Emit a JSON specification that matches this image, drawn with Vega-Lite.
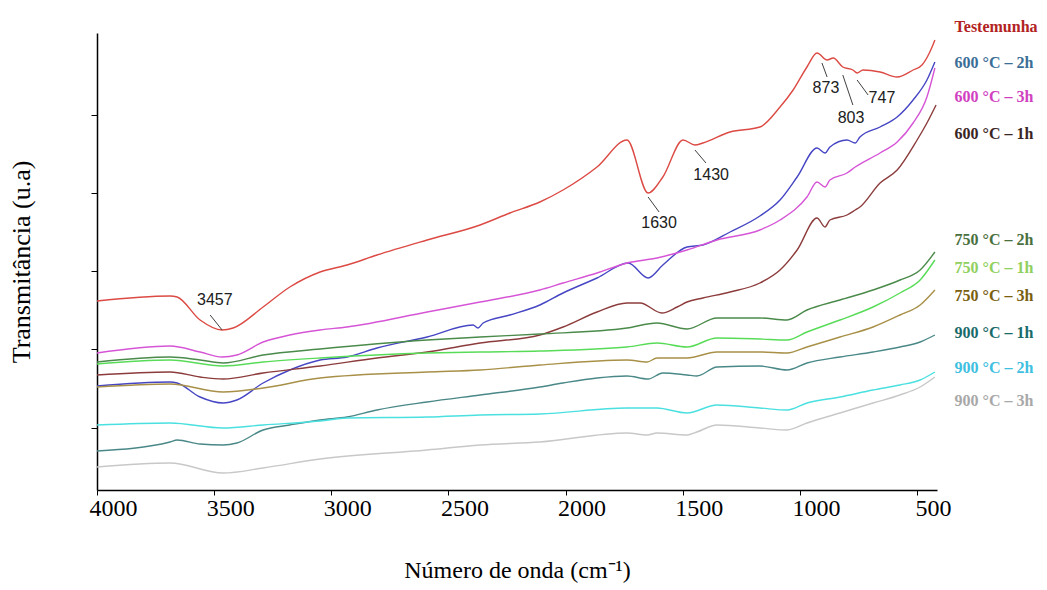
{
  "$schema": "https://vega.github.io/schema/vega-lite/v6.json",
  "width": 840,
  "height": 457,
  "autosize": {"type": "none"},
  "padding": {"left": 97, "top": 33, "right": 110, "bottom": 100},
  "background": "white",
  "config": {"view": {"stroke": null}, "font": "Liberation Serif", "axis": {"labelFont": "Liberation Serif", "titleFont": "Liberation Serif"}},
  "datasets": {
    "spectra": [
      {"s": "Testemunha", "w": 4000, "t": 1.89}, {"s": "Testemunha", "w": 3688, "t": 1.94}, {"s": "Testemunha", "w": 3658, "t": 1.93}, {"s": "Testemunha", "w": 3560, "t": 1.70}, {"s": "Testemunha", "w": 3466, "t": 1.60}, {"s": "Testemunha", "w": 3419, "t": 1.62}, {"s": "Testemunha", "w": 3291, "t": 1.83}, {"s": "Testemunha", "w": 3177, "t": 2.03}, {"s": "Testemunha", "w": 3048, "t": 2.18}, {"s": "Testemunha", "w": 2933, "t": 2.25}, {"s": "Testemunha", "w": 2805, "t": 2.35}, {"s": "Testemunha", "w": 2591, "t": 2.50}, {"s": "Testemunha", "w": 2365, "t": 2.65}, {"s": "Testemunha", "w": 2238, "t": 2.77}, {"s": "Testemunha", "w": 2110, "t": 2.88}, {"s": "Testemunha", "w": 2011, "t": 3.00}, {"s": "Testemunha", "w": 1866, "t": 3.23}, {"s": "Testemunha", "w": 1738, "t": 3.50}, {"s": "Testemunha", "w": 1648, "t": 2.97}, {"s": "Testemunha", "w": 1585, "t": 3.13}, {"s": "Testemunha", "w": 1499, "t": 3.50}, {"s": "Testemunha", "w": 1448, "t": 3.45}, {"s": "Testemunha", "w": 1414, "t": 3.47}, {"s": "Testemunha", "w": 1298, "t": 3.58}, {"s": "Testemunha", "w": 1171, "t": 3.63}, {"s": "Testemunha", "w": 1085, "t": 3.83}, {"s": "Testemunha", "w": 1029, "t": 4.00}, {"s": "Testemunha", "w": 970, "t": 4.23}, {"s": "Testemunha", "w": 927, "t": 4.37}, {"s": "Testemunha", "w": 884, "t": 4.30}, {"s": "Testemunha", "w": 858, "t": 4.32}, {"s": "Testemunha", "w": 817, "t": 4.23}, {"s": "Testemunha", "w": 774, "t": 4.20}, {"s": "Testemunha", "w": 756, "t": 4.17}, {"s": "Testemunha", "w": 731, "t": 4.20}, {"s": "Testemunha", "w": 658, "t": 4.18}, {"s": "Testemunha", "w": 585, "t": 4.13}, {"s": "Testemunha", "w": 517, "t": 4.20}, {"s": "Testemunha", "w": 479, "t": 4.25}, {"s": "Testemunha", "w": 436, "t": 4.43}, {"s": "Testemunha", "w": 424, "t": 4.50},

      {"s": "600 °C – 2h", "w": 4000, "t": 1.04}, {"s": "600 °C – 2h", "w": 3688, "t": 1.08}, {"s": "600 °C – 2h", "w": 3658, "t": 1.07}, {"s": "600 °C – 2h", "w": 3560, "t": 0.93}, {"s": "600 °C – 2h", "w": 3462, "t": 0.87}, {"s": "600 °C – 2h", "w": 3403, "t": 0.90}, {"s": "600 °C – 2h", "w": 3291, "t": 1.07}, {"s": "600 °C – 2h", "w": 3177, "t": 1.20}, {"s": "600 °C – 2h", "w": 3048, "t": 1.30}, {"s": "600 °C – 2h", "w": 2933, "t": 1.33}, {"s": "600 °C – 2h", "w": 2805, "t": 1.42}, {"s": "600 °C – 2h", "w": 2591, "t": 1.53}, {"s": "600 °C – 2h", "w": 2395, "t": 1.65}, {"s": "600 °C – 2h", "w": 2374, "t": 1.62}, {"s": "600 °C – 2h", "w": 2352, "t": 1.67}, {"s": "600 °C – 2h", "w": 2238, "t": 1.75}, {"s": "600 °C – 2h", "w": 2110, "t": 1.85}, {"s": "600 °C – 2h", "w": 2011, "t": 1.97}, {"s": "600 °C – 2h", "w": 1866, "t": 2.12}, {"s": "600 °C – 2h", "w": 1733, "t": 2.27}, {"s": "600 °C – 2h", "w": 1648, "t": 2.12}, {"s": "600 °C – 2h", "w": 1585, "t": 2.25}, {"s": "600 °C – 2h", "w": 1482, "t": 2.43}, {"s": "600 °C – 2h", "w": 1414, "t": 2.45}, {"s": "600 °C – 2h", "w": 1298, "t": 2.58}, {"s": "600 °C – 2h", "w": 1171, "t": 2.74}, {"s": "600 °C – 2h", "w": 1085, "t": 2.90}, {"s": "600 °C – 2h", "w": 1012, "t": 3.13}, {"s": "600 °C – 2h", "w": 927, "t": 3.42}, {"s": "600 °C – 2h", "w": 893, "t": 3.37}, {"s": "600 °C – 2h", "w": 872, "t": 3.43}, {"s": "600 °C – 2h", "w": 799, "t": 3.50}, {"s": "600 °C – 2h", "w": 764, "t": 3.47}, {"s": "600 °C – 2h", "w": 744, "t": 3.53}, {"s": "600 °C – 2h", "w": 658, "t": 3.63}, {"s": "600 °C – 2h", "w": 585, "t": 3.73}, {"s": "600 °C – 2h", "w": 517, "t": 3.90}, {"s": "600 °C – 2h", "w": 458, "t": 4.10}, {"s": "600 °C – 2h", "w": 424, "t": 4.28},

      {"s": "600 °C – 3h", "w": 4000, "t": 1.37}, {"s": "600 °C – 3h", "w": 3688, "t": 1.44}, {"s": "600 °C – 3h", "w": 3560, "t": 1.38}, {"s": "600 °C – 3h", "w": 3466, "t": 1.33}, {"s": "600 °C – 3h", "w": 3403, "t": 1.35}, {"s": "600 °C – 3h", "w": 3291, "t": 1.48}, {"s": "600 °C – 3h", "w": 3177, "t": 1.55}, {"s": "600 °C – 3h", "w": 3048, "t": 1.60}, {"s": "600 °C – 3h", "w": 2933, "t": 1.63}, {"s": "600 °C – 3h", "w": 2591, "t": 1.78}, {"s": "600 °C – 3h", "w": 2365, "t": 1.88}, {"s": "600 °C – 3h", "w": 2110, "t": 2.00}, {"s": "600 °C – 3h", "w": 2011, "t": 2.07}, {"s": "600 °C – 3h", "w": 1866, "t": 2.17}, {"s": "600 °C – 3h", "w": 1738, "t": 2.27}, {"s": "600 °C – 3h", "w": 1610, "t": 2.32}, {"s": "600 °C – 3h", "w": 1482, "t": 2.40}, {"s": "600 °C – 3h", "w": 1354, "t": 2.50}, {"s": "600 °C – 3h", "w": 1171, "t": 2.60}, {"s": "600 °C – 3h", "w": 1085, "t": 2.70}, {"s": "600 °C – 3h", "w": 970, "t": 2.93}, {"s": "600 °C – 3h", "w": 927, "t": 3.08}, {"s": "600 °C – 3h", "w": 893, "t": 3.03}, {"s": "600 °C – 3h", "w": 872, "t": 3.10}, {"s": "600 °C – 3h", "w": 799, "t": 3.17}, {"s": "600 °C – 3h", "w": 764, "t": 3.23}, {"s": "600 °C – 3h", "w": 658, "t": 3.37}, {"s": "600 °C – 3h", "w": 585, "t": 3.48}, {"s": "600 °C – 3h", "w": 517, "t": 3.67}, {"s": "600 °C – 3h", "w": 458, "t": 3.93}, {"s": "600 °C – 3h", "w": 424, "t": 4.22},

      {"s": "600 °C – 1h", "w": 4000, "t": 1.15}, {"s": "600 °C – 1h", "w": 3688, "t": 1.18}, {"s": "600 °C – 1h", "w": 3560, "t": 1.13}, {"s": "600 °C – 1h", "w": 3462, "t": 1.11}, {"s": "600 °C – 1h", "w": 3291, "t": 1.17}, {"s": "600 °C – 1h", "w": 3048, "t": 1.24}, {"s": "600 °C – 1h", "w": 2805, "t": 1.32}, {"s": "600 °C – 1h", "w": 2591, "t": 1.38}, {"s": "600 °C – 1h", "w": 2365, "t": 1.47}, {"s": "600 °C – 1h", "w": 2110, "t": 1.55}, {"s": "600 °C – 1h", "w": 2011, "t": 1.63}, {"s": "600 °C – 1h", "w": 1866, "t": 1.78}, {"s": "600 °C – 1h", "w": 1738, "t": 1.87}, {"s": "600 °C – 1h", "w": 1682, "t": 1.87}, {"s": "600 °C – 1h", "w": 1589, "t": 1.77}, {"s": "600 °C – 1h", "w": 1524, "t": 1.83}, {"s": "600 °C – 1h", "w": 1482, "t": 1.88}, {"s": "600 °C – 1h", "w": 1414, "t": 1.92}, {"s": "600 °C – 1h", "w": 1298, "t": 1.98}, {"s": "600 °C – 1h", "w": 1171, "t": 2.07}, {"s": "600 °C – 1h", "w": 1085, "t": 2.20}, {"s": "600 °C – 1h", "w": 1012, "t": 2.40}, {"s": "600 °C – 1h", "w": 927, "t": 2.72}, {"s": "600 °C – 1h", "w": 893, "t": 2.63}, {"s": "600 °C – 1h", "w": 872, "t": 2.70}, {"s": "600 °C – 1h", "w": 799, "t": 2.75}, {"s": "600 °C – 1h", "w": 764, "t": 2.80}, {"s": "600 °C – 1h", "w": 744, "t": 2.83}, {"s": "600 °C – 1h", "w": 658, "t": 3.07}, {"s": "600 °C – 1h", "w": 585, "t": 3.20}, {"s": "600 °C – 1h", "w": 500, "t": 3.50}, {"s": "600 °C – 1h", "w": 458, "t": 3.67}, {"s": "600 °C – 1h", "w": 419, "t": 3.85},

      {"s": "750 °C – 2h", "w": 4000, "t": 1.28}, {"s": "750 °C – 2h", "w": 3688, "t": 1.33}, {"s": "750 °C – 2h", "w": 3560, "t": 1.30}, {"s": "750 °C – 2h", "w": 3462, "t": 1.27}, {"s": "750 °C – 2h", "w": 3291, "t": 1.35}, {"s": "750 °C – 2h", "w": 3048, "t": 1.41}, {"s": "750 °C – 2h", "w": 2591, "t": 1.50}, {"s": "750 °C – 2h", "w": 2365, "t": 1.53}, {"s": "750 °C – 2h", "w": 2110, "t": 1.56}, {"s": "750 °C – 2h", "w": 1738, "t": 1.62}, {"s": "750 °C – 2h", "w": 1610, "t": 1.67}, {"s": "750 °C – 2h", "w": 1482, "t": 1.61}, {"s": "750 °C – 2h", "w": 1354, "t": 1.72}, {"s": "750 °C – 2h", "w": 1171, "t": 1.72}, {"s": "750 °C – 2h", "w": 1055, "t": 1.70}, {"s": "750 °C – 2h", "w": 970, "t": 1.80}, {"s": "750 °C – 2h", "w": 829, "t": 1.90}, {"s": "750 °C – 2h", "w": 688, "t": 2.00}, {"s": "750 °C – 2h", "w": 573, "t": 2.10}, {"s": "750 °C – 2h", "w": 487, "t": 2.20}, {"s": "750 °C – 2h", "w": 424, "t": 2.38},

      {"s": "750 °C – 1h", "w": 4000, "t": 1.26}, {"s": "750 °C – 1h", "w": 3688, "t": 1.30}, {"s": "750 °C – 1h", "w": 3462, "t": 1.24}, {"s": "750 °C – 1h", "w": 3291, "t": 1.28}, {"s": "750 °C – 1h", "w": 3048, "t": 1.32}, {"s": "750 °C – 1h", "w": 2591, "t": 1.37}, {"s": "750 °C – 1h", "w": 2365, "t": 1.38}, {"s": "750 °C – 1h", "w": 2110, "t": 1.39}, {"s": "750 °C – 1h", "w": 1738, "t": 1.43}, {"s": "750 °C – 1h", "w": 1610, "t": 1.47}, {"s": "750 °C – 1h", "w": 1482, "t": 1.43}, {"s": "750 °C – 1h", "w": 1354, "t": 1.52}, {"s": "750 °C – 1h", "w": 1171, "t": 1.51}, {"s": "750 °C – 1h", "w": 1055, "t": 1.50}, {"s": "750 °C – 1h", "w": 970, "t": 1.58}, {"s": "750 °C – 1h", "w": 829, "t": 1.70}, {"s": "750 °C – 1h", "w": 688, "t": 1.83}, {"s": "750 °C – 1h", "w": 573, "t": 1.97}, {"s": "750 °C – 1h", "w": 487, "t": 2.10}, {"s": "750 °C – 1h", "w": 424, "t": 2.30},

      {"s": "750 °C – 3h", "w": 4000, "t": 1.03}, {"s": "750 °C – 3h", "w": 3688, "t": 1.06}, {"s": "750 °C – 3h", "w": 3462, "t": 0.98}, {"s": "750 °C – 3h", "w": 3291, "t": 1.02}, {"s": "750 °C – 3h", "w": 3048, "t": 1.12}, {"s": "750 °C – 3h", "w": 2591, "t": 1.18}, {"s": "750 °C – 3h", "w": 2365, "t": 1.20}, {"s": "750 °C – 3h", "w": 2110, "t": 1.25}, {"s": "750 °C – 3h", "w": 1738, "t": 1.30}, {"s": "750 °C – 3h", "w": 1652, "t": 1.28}, {"s": "750 °C – 3h", "w": 1610, "t": 1.32}, {"s": "750 °C – 3h", "w": 1482, "t": 1.32}, {"s": "750 °C – 3h", "w": 1354, "t": 1.38}, {"s": "750 °C – 3h", "w": 1171, "t": 1.38}, {"s": "750 °C – 3h", "w": 1055, "t": 1.37}, {"s": "750 °C – 3h", "w": 970, "t": 1.43}, {"s": "750 °C – 3h", "w": 829, "t": 1.53}, {"s": "750 °C – 3h", "w": 688, "t": 1.63}, {"s": "750 °C – 3h", "w": 573, "t": 1.75}, {"s": "750 °C – 3h", "w": 487, "t": 1.85}, {"s": "750 °C – 3h", "w": 424, "t": 2.00},

      {"s": "900 °C – 1h", "w": 4000, "t": 0.39}, {"s": "900 °C – 1h", "w": 3688, "t": 0.48}, {"s": "900 °C – 1h", "w": 3658, "t": 0.50}, {"s": "900 °C – 1h", "w": 3560, "t": 0.46}, {"s": "900 °C – 1h", "w": 3462, "t": 0.45}, {"s": "900 °C – 1h", "w": 3403, "t": 0.47}, {"s": "900 °C – 1h", "w": 3291, "t": 0.60}, {"s": "900 °C – 1h", "w": 3177, "t": 0.65}, {"s": "900 °C – 1h", "w": 3048, "t": 0.70}, {"s": "900 °C – 1h", "w": 2933, "t": 0.73}, {"s": "900 °C – 1h", "w": 2805, "t": 0.80}, {"s": "900 °C – 1h", "w": 2591, "t": 0.88}, {"s": "900 °C – 1h", "w": 2365, "t": 0.95}, {"s": "900 °C – 1h", "w": 2110, "t": 1.03}, {"s": "900 °C – 1h", "w": 2011, "t": 1.07}, {"s": "900 °C – 1h", "w": 1866, "t": 1.12}, {"s": "900 °C – 1h", "w": 1738, "t": 1.14}, {"s": "900 °C – 1h", "w": 1648, "t": 1.11}, {"s": "900 °C – 1h", "w": 1585, "t": 1.17}, {"s": "900 °C – 1h", "w": 1482, "t": 1.15}, {"s": "900 °C – 1h", "w": 1440, "t": 1.14}, {"s": "900 °C – 1h", "w": 1354, "t": 1.23}, {"s": "900 °C – 1h", "w": 1171, "t": 1.24}, {"s": "900 °C – 1h", "w": 1055, "t": 1.20}, {"s": "900 °C – 1h", "w": 970, "t": 1.27}, {"s": "900 °C – 1h", "w": 829, "t": 1.33}, {"s": "900 °C – 1h", "w": 688, "t": 1.38}, {"s": "900 °C – 1h", "w": 573, "t": 1.43}, {"s": "900 °C – 1h", "w": 487, "t": 1.48}, {"s": "900 °C – 1h", "w": 424, "t": 1.55},

      {"s": "900 °C – 2h", "w": 4000, "t": 0.65}, {"s": "900 °C – 2h", "w": 3688, "t": 0.67}, {"s": "900 °C – 2h", "w": 3462, "t": 0.62}, {"s": "900 °C – 2h", "w": 3291, "t": 0.65}, {"s": "900 °C – 2h", "w": 3048, "t": 0.69}, {"s": "900 °C – 2h", "w": 2933, "t": 0.72}, {"s": "900 °C – 2h", "w": 2591, "t": 0.73}, {"s": "900 °C – 2h", "w": 2365, "t": 0.75}, {"s": "900 °C – 2h", "w": 2110, "t": 0.76}, {"s": "900 °C – 2h", "w": 1738, "t": 0.82}, {"s": "900 °C – 2h", "w": 1610, "t": 0.82}, {"s": "900 °C – 2h", "w": 1482, "t": 0.77}, {"s": "900 °C – 2h", "w": 1354, "t": 0.85}, {"s": "900 °C – 2h", "w": 1171, "t": 0.82}, {"s": "900 °C – 2h", "w": 1055, "t": 0.80}, {"s": "900 °C – 2h", "w": 970, "t": 0.87}, {"s": "900 °C – 2h", "w": 829, "t": 0.93}, {"s": "900 °C – 2h", "w": 688, "t": 1.00}, {"s": "900 °C – 2h", "w": 573, "t": 1.05}, {"s": "900 °C – 2h", "w": 487, "t": 1.10}, {"s": "900 °C – 2h", "w": 424, "t": 1.18},

      {"s": "900 °C – 3h", "w": 4000, "t": 0.23}, {"s": "900 °C – 3h", "w": 3688, "t": 0.27}, {"s": "900 °C – 3h", "w": 3462, "t": 0.17}, {"s": "900 °C – 3h", "w": 3291, "t": 0.22}, {"s": "900 °C – 3h", "w": 3048, "t": 0.31}, {"s": "900 °C – 3h", "w": 2591, "t": 0.40}, {"s": "900 °C – 3h", "w": 2365, "t": 0.45}, {"s": "900 °C – 3h", "w": 2110, "t": 0.48}, {"s": "900 °C – 3h", "w": 1738, "t": 0.57}, {"s": "900 °C – 3h", "w": 1652, "t": 0.55}, {"s": "900 °C – 3h", "w": 1610, "t": 0.57}, {"s": "900 °C – 3h", "w": 1482, "t": 0.55}, {"s": "900 °C – 3h", "w": 1440, "t": 0.58}, {"s": "900 °C – 3h", "w": 1354, "t": 0.65}, {"s": "900 °C – 3h", "w": 1171, "t": 0.62}, {"s": "900 °C – 3h", "w": 1055, "t": 0.60}, {"s": "900 °C – 3h", "w": 970, "t": 0.67}, {"s": "900 °C – 3h", "w": 829, "t": 0.77}, {"s": "900 °C – 3h", "w": 688, "t": 0.87}, {"s": "900 °C – 3h", "w": 573, "t": 0.95}, {"s": "900 °C – 3h", "w": 487, "t": 1.03}, {"s": "900 °C – 3h", "w": 424, "t": 1.13}
    ],
    "labels": [
      {"s": "Testemunha", "w": 340, "t": 4.63},
      {"s": "600 °C – 2h", "w": 340, "t": 4.27},
      {"s": "600 °C – 3h", "w": 340, "t": 3.93},
      {"s": "600 °C – 1h", "w": 340, "t": 3.56},
      {"s": "750 °C – 2h", "w": 340, "t": 2.50},
      {"s": "750 °C – 1h", "w": 340, "t": 2.22},
      {"s": "750 °C – 3h", "w": 340, "t": 1.94},
      {"s": "900 °C – 1h", "w": 340, "t": 1.57},
      {"s": "900 °C – 2h", "w": 340, "t": 1.22},
      {"s": "900 °C – 3h", "w": 340, "t": 0.89}
    ],
    "leaders": [
      {"w": 3517, "w2": 3466, "t": 1.75, "t2": 1.60},
      {"w": 1648, "w2": 1601, "t": 2.93, "t2": 2.78},
      {"w": 1448, "w2": 1401, "t": 3.40, "t2": 3.27},
      {"w": 906, "w2": 884, "t": 4.27, "t2": 4.13},
      {"w": 817, "w2": 774, "t": 4.15, "t2": 3.85},
      {"w": 756, "w2": 709, "t": 4.10, "t2": 3.95}
    ],
    "notes": [
      {"label": "3457", "w": 3497, "t": 1.90},
      {"label": "1630", "w": 1601, "t": 2.67},
      {"label": "1430", "w": 1379, "t": 3.15},
      {"label": "873", "w": 889, "t": 4.02},
      {"label": "803", "w": 782, "t": 3.72},
      {"label": "747", "w": 650, "t": 3.92}
    ]
  },
  "encoding": {
    "x": {
      "field": "w",
      "type": "quantitative",
      "scale": {"domain": [4000, 415], "nice": false, "zero": false},
      "axis": {
        "title": "Número de onda (cm⁻¹)",
        "values": [4000, 3500, 3000, 2500, 2000, 1500, 1000, 500],
        "format": "d",
        "grid": false,
        "domainColor": "#000000",
        "domainWidth": 1.5,
        "tickColor": "#000000",
        "tickSize": 5,
        "labelFont": "Liberation Serif",
        "labelFontSize": 24,
        "labelColor": "#000000",
        "labelPadding": 1,
        "labelOffset": 16,
        "labelFlush": false,
        "labelOverlap": false,
        "titleFont": "Liberation Serif",
        "titleFontSize": 24,
        "titleFontWeight": "normal",
        "titleColor": "#000000",
        "titlePadding": 38
      }
    },
    "y": {
      "field": "t",
      "type": "quantitative",
      "scale": {"domain": [0, 4.57], "nice": false, "zero": false},
      "axis": {
        "title": "Transmitância (u.a)",
        "values": [0.62, 1.41, 2.19, 2.97, 3.75],
        "labels": false,
        "grid": false,
        "domainColor": "#000000",
        "domainWidth": 1.5,
        "tickColor": "#000000",
        "tickSize": 6,
        "titleFont": "Liberation Serif",
        "titleFontSize": 26,
        "titleFontWeight": "normal",
        "titleColor": "#000000",
        "titlePadding": 56
      }
    }
  },
  "layer": [
    {
      "data": {"name": "spectra"},
      "mark": {"type": "line", "strokeWidth": 1.4, "interpolate": "monotone"},
      "encoding": {
        "color": {
          "field": "s",
          "type": "nominal",
          "scale": {
            "domain": ["Testemunha", "600 °C – 2h", "600 °C – 3h", "600 °C – 1h", "750 °C – 2h", "750 °C – 1h", "750 °C – 3h", "900 °C – 1h", "900 °C – 2h", "900 °C – 3h"],
            "range": ["#dc4a44", "#4646c4", "#d655d6", "#8c3c3c", "#4a8a4a", "#58dc58", "#a89048", "#4a8888", "#4ae0e0", "#c8c8c8"]
          },
          "legend": null
        }
      }
    },
    {
      "data": {"name": "leaders"},
      "mark": {"type": "rule", "color": "#404040", "strokeWidth": 1},
      "encoding": {
        "x2": {"field": "w2"},
        "y2": {"field": "t2"}
      }
    },
    {
      "data": {"name": "notes"},
      "mark": {"type": "text", "font": "Liberation Sans Narrow, Liberation Sans, sans-serif", "fontSize": 16, "color": "#202020", "align": "center", "baseline": "middle"},
      "encoding": {
        "text": {"field": "label"}
      }
    },
    {
      "data": {"name": "labels"},
      "mark": {"type": "text", "font": "Liberation Serif", "fontWeight": "bold", "fontSize": 16, "align": "left", "baseline": "middle", "clip": false},
      "encoding": {
        "text": {"field": "s"},
        "color": {
          "field": "s",
          "type": "nominal",
          "scale": {
            "domain": ["Testemunha", "600 °C – 2h", "600 °C – 3h", "600 °C – 1h", "750 °C – 2h", "750 °C – 1h", "750 °C – 3h", "900 °C – 1h", "900 °C – 2h", "900 °C – 3h"],
            "range": ["#b22222", "#3a6e96", "#d040c0", "#3a2424", "#4a7040", "#90d060", "#7a6010", "#1a6a6a", "#40c0e0", "#a8a8a8"]
          },
          "legend": null
        }
      }
    }
  ],
  "resolve": {"scale": {"color": "independent"}}
}
